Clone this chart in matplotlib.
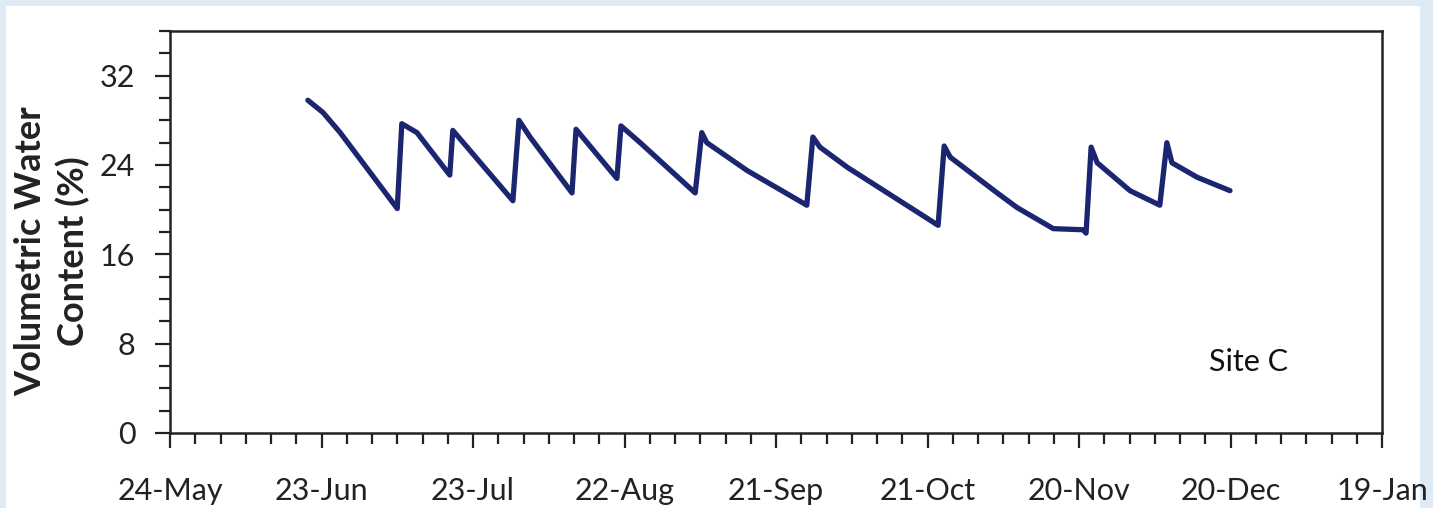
import datetime as dt
import matplotlib
matplotlib.use("Agg")
import matplotlib.pyplot as plt
import matplotlib.dates as mdates

# ---- data ----
start_date = dt.datetime(2015, 5, 24)
end_date = dt.datetime(2016, 1, 19)
# days after 24-May
days = [27.3, 30.3, 33.7, 45.0, 45.9, 48.9, 55.4, 56.0, 67.9, 69.1, 71.3, 79.6,
        80.4, 88.5, 89.3, 93.1, 104.0, 105.3, 106.3, 114.3, 126.1, 127.3, 128.7,
        134.1, 152.1, 153.3, 154.5, 163.8, 167.7, 174.9, 180.8, 181.4, 182.4,
        183.6, 190.1, 196.0, 197.4, 198.4, 203.4, 209.9]
vwc = [29.8, 28.7, 26.9, 20.1, 27.7, 26.9, 23.1, 27.1, 20.8, 28.0, 26.5, 21.5,
       27.2, 22.8, 27.5, 26.0, 21.5, 26.9, 26.0, 23.5, 20.4, 26.5, 25.6,
       23.8, 18.6, 25.7, 24.7, 21.5, 20.2, 18.3, 18.2, 17.9, 25.6,
       24.2, 21.7, 20.4, 26.0, 24.2, 22.9, 21.7]
y_ticks = [0, 8, 16, 24, 32]
site_label = "Site C"
y_label = "Volumetric Water\nContent (%)"

dates = [start_date + dt.timedelta(days=d) for d in days]

W, H = 1433, 508
fig = plt.figure(figsize=(W / 100, H / 100), dpi=100, facecolor="#deeaf6")
bg = fig.add_axes([6 / W, 0, (1420 - 6) / W, (H - 6) / H], zorder=-5)
bg.set_facecolor("white")
bg.set_xticks([]); bg.set_yticks([])
for s in bg.spines.values():
    s.set_visible(False)

ax = fig.add_axes([170 / W, 1 - 433 / H, (1382 - 170) / W, (433 - 31) / H], zorder=1)
ax.set_facecolor("white")

ax.plot(dates, vwc, color="#1c2670", lw=3.8, solid_joinstyle="round",
        solid_capstyle="round")

ax.set_xlim(start_date, end_date)
ax.set_ylim(0, 36)
major = [start_date + dt.timedelta(days=30 * i) for i in range(9)]
minor = [start_date + dt.timedelta(days=5 * i) for i in range(49)]
ax.set_xticks(major)
ax.set_xticks(minor, minor=True)
ax.xaxis.set_major_formatter(mdates.DateFormatter("%d-%b"))
ax.set_yticks(y_ticks)
ax.set_yticks(list(range(0, 37, 2)), minor=True)

font = "Lato"
for lab in ax.get_xticklabels() + ax.get_yticklabels():
    lab.set_fontfamily(font)
    lab.set_fontsize(22)
    lab.set_color("#222222")

ax.tick_params(which="major", direction="out", length=11, width=1.6, color="#222222")
ax.tick_params(which="minor", direction="out", length=8, width=1.6, color="#222222")
ax.tick_params(axis="x", which="major", pad=21)
ax.tick_params(axis="y", which="major", pad=14)
for s in ax.spines.values():
    s.set_linewidth(1.8)
    s.set_color("#222222")

fig.text(52 / W, 1 - 251 / H, y_label, rotation=90, ha="center", va="center",
         multialignment="center", fontfamily=font, fontsize=26, fontweight="bold",
         color="#222222", linespacing=1.3)
ax.text(0.89, 0.177, site_label, transform=ax.transAxes, ha="center", va="center",
        fontfamily=font, fontsize=22, color="#111111")

fig.savefig("out.png", dpi=100, facecolor=fig.get_facecolor())
